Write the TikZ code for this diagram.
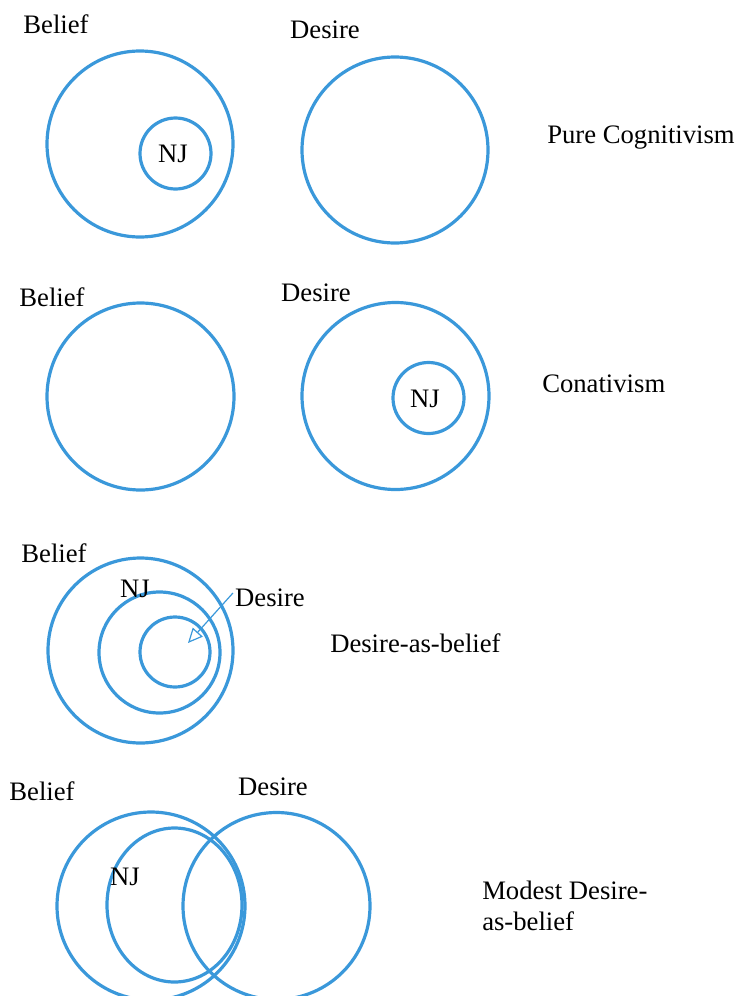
\documentclass[tikz,border=0pt]{standalone}
\usepackage{fontspec}
\setmainfont{Liberation Serif}
\usetikzlibrary{shapes.geometric,arrows.meta}
\definecolor{ringblue}{RGB}{58,152,218}
\tikzset{
  ring/.style={circle, draw=ringblue, line width=2.4pt, inner sep=0pt, minimum size=#1*1.5pt},
  oval/.style 2 args={ellipse, draw=ringblue, line width=2.4pt, inner sep=0pt, minimum width=#1*0.75pt, minimum height=#2*0.75pt},
  lbl/.style={inner sep=0pt, font=\fontsize{20}{23}\selectfont},
  pointer/.style={draw=ringblue, line width=0.9pt, -{Triangle[open, length=11pt, width=10pt]}}
}
\begin{document}
\begin{tikzpicture}[x=0.75pt, y=-0.75pt]
\useasboundingbox (0,0) rectangle (747,996);
% Diagram 1: Pure Cognitivism
\node[lbl] (b1) at (56,24) {Belief};
\node[lbl] (d1) at (325,30) {Desire};
\node[ring=93] (b1c) at (140,144) {};
\node[ring=35.5] (nj1c) at (175.5,153.5) {};
\node[lbl] (nj1) at (173,154) {NJ};
\node[ring=93] (d1c) at (395,150) {};
\node[lbl, anchor=west] (t1) at (547,138) {Pure Cognitivism};
% Diagram 2: Conativism
\node[lbl] (b2) at (52,297) {Belief};
\node[lbl] (d2) at (316,293) {Desire};
\node[ring=93.5] (b2c) at (140.5,396.5) {};
\node[ring=93.5] (d2c) at (395.5,396) {};
\node[ring=35.5] (nj2c) at (428.5,398) {};
\node[lbl] (nj2) at (425,399) {NJ};
\node[lbl, anchor=west] (t2) at (542,384) {Conativism};
% Diagram 3: Desire-as-belief
\node[lbl] (b3) at (54,553) {Belief};
\node[ring=92.5] (b3c) at (140.5,650.5) {};
\node[ring=60.5] (nj3c) at (159.5,652.5) {};
\node[ring=35] (d3c) at (175,652) {};
\node[lbl] (nj3) at (135,589) {NJ};
\node[lbl] (d3) at (270,598) {Desire};
\coordinate (tip3) at (188,643);
\draw[pointer] (d3.west) ++(-2,-5) -- (tip3);
\node[lbl, anchor=west] (t3) at (330,643) {Desire-as-belief};
% Diagram 4: Modest Desire-as-belief
\node[lbl] (b4) at (42,791) {Belief};
\node[lbl] (d4) at (273,787) {Desire};
\node[ring=94] (b4c) at (151,906) {};
\node[oval={135}{154}] (nj4c) at (174.5,905) {};
\node[ring=93.5] (d4c) at (276.5,906) {};
\node[lbl] (nj4) at (125,877) {NJ};
\node[lbl, anchor=north west, align=left] (t4) at (482,881) {Modest Desire-\\as-belief};
\end{tikzpicture}
\end{document}
